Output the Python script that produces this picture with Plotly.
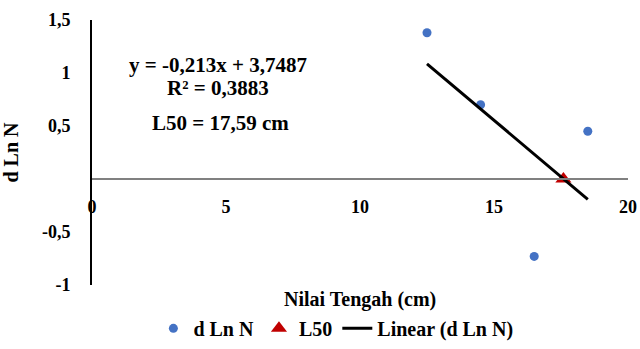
import plotly.graph_objects as go

# Data
x_mid = [12.5, 14.5, 16.5, 18.5]          # Nilai Tengah (cm)
d_ln_n = [1.38, 0.70, -0.73, 0.45]        # d Ln N
slope = -0.213
intercept = 3.7487
r2 = 0.3883
l50 = 17.59
l50_y = [0.0]

x_ticks = [0, 5, 10, 15, 20]
y_ticks = [-1, -0.5, 0.5, 1, 1.5]
y_tick_text = ["-1", "-0,5", "0,5", "1", "1,5"]

fnt = dict(family="Liberation Serif", size=18, color="black", weight="bold")
big = dict(family="Liberation Serif", size=20, color="black", weight="bold")
ann = dict(family="Liberation Serif", size=21, color="black", weight="bold")

fit_x = [min(x_mid), max(x_mid)]
fit_y = [slope * v + intercept for v in fit_x]

fig = go.Figure()
fig.add_trace(go.Scatter(x=x_mid, y=d_ln_n, mode="markers", name="d Ln N",
                         marker=dict(color="#4472C4", size=9)))
fig.add_trace(go.Scatter(x=[l50], y=l50_y, mode="markers", name="L50",
                         marker=dict(color="#C00000", size=14, symbol="triangle-up")))
fig.add_trace(go.Scatter(x=fit_x, y=fit_y, mode="lines", name="Linear (d Ln N)",
                         line=dict(color="black", width=3)))

fig.update_layout(
    width=640, height=349,
    margin=dict(l=92, r=12, t=20, b=64, autoexpand=False),
    paper_bgcolor="white", plot_bgcolor="white",
    font=fnt,
    showlegend=True,
    legend=dict(orientation="h", x=0.455, xanchor="center", y=-0.09, yanchor="top",
                font=big, itemwidth=30, tracegroupgap=0,
                bgcolor="rgba(0,0,0,0)"),
    xaxis=dict(range=[0, 20], tickvals=x_ticks, ticktext=[str(v) for v in x_ticks],
               anchor="free", position=0.4, showline=True, linecolor="#808080",
               linewidth=2, showgrid=False, zeroline=False, ticks="",
               ticklabelstandoff=11, tickfont=fnt, automargin=False),
    yaxis=dict(range=[-1, 1.5], tickvals=y_ticks, ticktext=y_tick_text,
               showline=True, linecolor="black", linewidth=2, showgrid=False,
               zeroline=False, ticks="", ticklabelstandoff=16, tickfont=fnt,
               automargin=False,
               title=dict(text="d Ln N", font=big, standoff=24)),
    annotations=[
        dict(text="Nilai Tengah (cm)", xref="paper", yref="paper", x=0.5, y=-0.005,
             xanchor="center", yanchor="top", showarrow=False, font=big),
        dict(text=f"y = {str(slope).replace('.', ',')}x + {str(intercept).replace('.', ',')}",
             xref="x", yref="y", x=4.7, y=1.08, showarrow=False, font=ann),
        dict(text=f"R² = {str(r2).replace('.', ',')}",
             xref="x", yref="y", x=4.7, y=0.86, showarrow=False, font=ann),
        dict(text=f"L50 = {str(l50).replace('.', ',')} cm",
             xref="x", yref="y", x=4.8, y=0.53, showarrow=False, font=ann),
    ],
)

fig.write_html("out.html")
